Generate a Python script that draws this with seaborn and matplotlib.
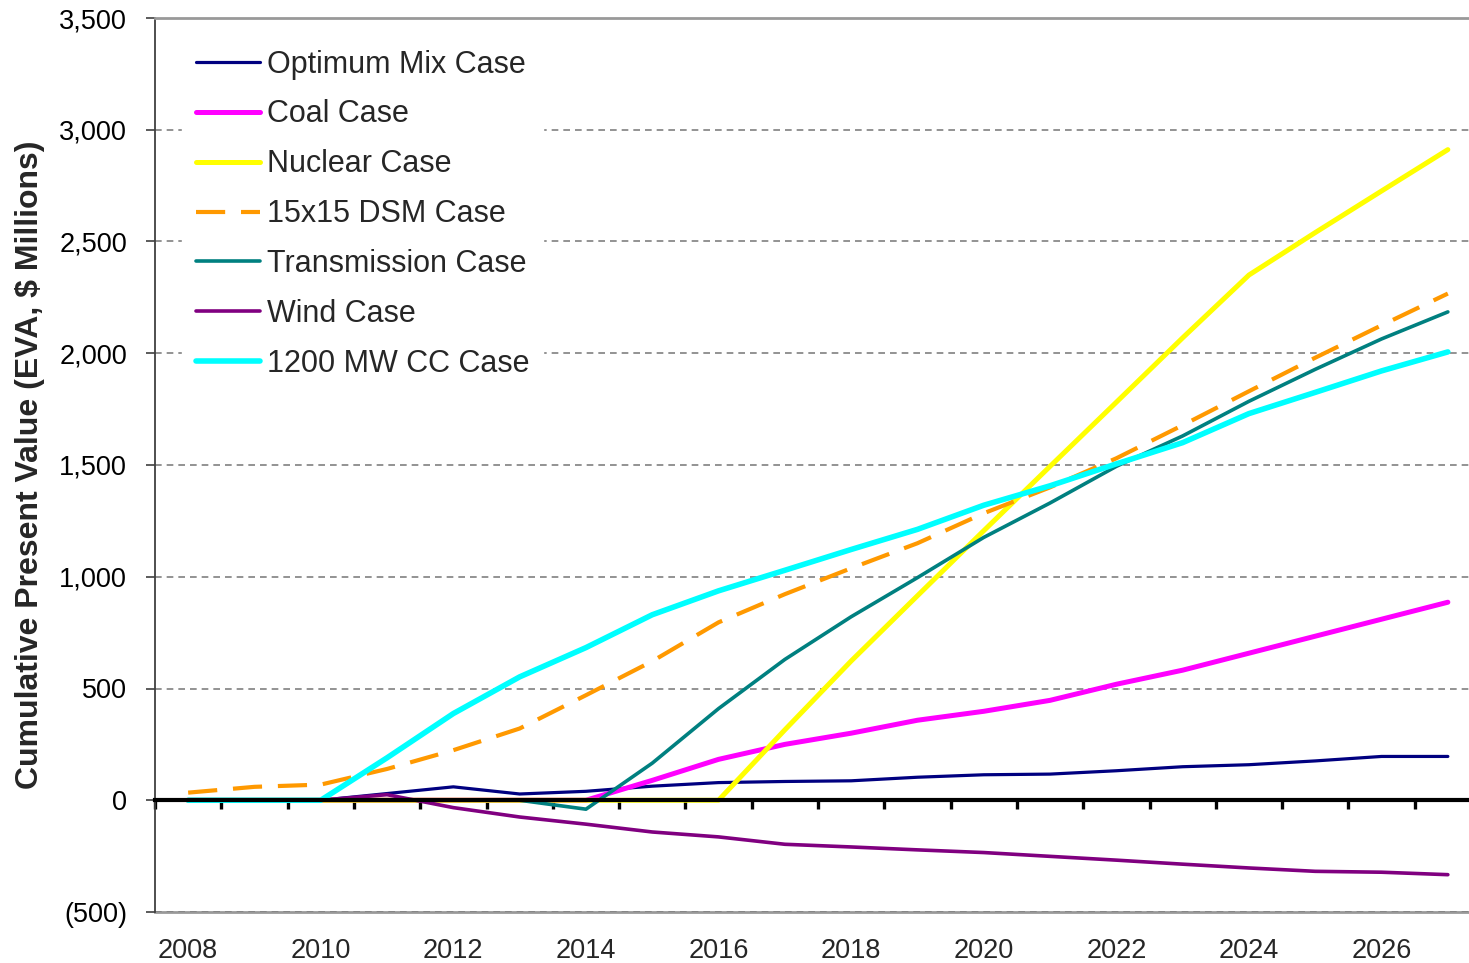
import numpy as np
import pandas as pd
import matplotlib
matplotlib.use("Agg")
import matplotlib.pyplot as plt
from matplotlib.ticker import FuncFormatter
import seaborn as sns

# --- dados ---
years = list(range(2008, 2028))

optimum = [0, 0, 0, 30, 60, 28, 40, 63, 79, 84, 87, 103, 114, 117, 132, 150, 159, 176, 196, 196]
coal = [0, 0, 0, 0, 0, 0, 0, 89, 183, 250, 300, 358, 398, 447, 519, 582, 658, 734, 810, 886]
nuclear = [0, 0, 0, 0, 0, 0, 0, 0, 0, 315, 623, 915, 1206, 1494, 1781, 2069, 2350, 2540, 2726, 2911]
dsm = [34, 60, 70, 140, 224, 321, 470, 622, 796, 922, 1038, 1150, 1284, 1400, 1530, 1678, 1830, 1980, 2125, 2267]
transmission = [0, 0, 0, 0, 0, 0, -40, 166, 410, 630, 821, 996, 1176, 1330, 1494, 1630, 1785, 1928, 2064, 2185]
wind = [0, 0, 0, 25, -33, -75, -107, -142, -164, -197, -209, -222, -234, -251, -268, -286, -303, -318, -322, -333]
cc1200 = [0, 0, 0, 190, 388, 552, 683, 830, 937, 1029, 1122, 1212, 1320, 1407, 1505, 1600, 1730, 1825, 1921, 2006]

case_names = ["Optimum Mix Case", "Coal Case", "Nuclear Case", "15x15 DSM Case",
              "Transmission Case", "Wind Case", "1200 MW CC Case"]
case_values = [optimum, coal, nuclear, dsm, transmission, wind, cc1200]

# estilo de cada série: cor, espessura, tracejado
styles = {
    "Optimum Mix Case": ("#000080", 2.3, "-"),
    "Coal Case": ("#FF00FF", 3.6, "-"),
    "Nuclear Case": ("#FFFF00", 3.6, "-"),
    "15x15 DSM Case": ("#FF9900", 3.0, (0, (7, 3.8))),
    "Transmission Case": ("#008080", 2.6, "-"),
    "Wind Case": ("#800080", 2.6, "-"),
    "1200 MW CC Case": ("#00FFFF", 4.0, "-"),
}

df = pd.DataFrame({name: vals for name, vals in zip(case_names, case_values)}, index=years)
df.index.name = "Year"
long_df = df.reset_index().melt(id_vars="Year", var_name="Case", value_name="Value")

sns.set_theme(style="white")
plt.rcParams["font.family"] = ["Liberation Sans", "DejaVu Sans"]

fig = plt.figure(figsize=(14.69, 9.63), dpi=100)
ax = fig.add_axes([155 / 1469, (963 - 912) / 963, 1314 / 1469, 894 / 963])

for name in case_names:
    color, lw, ls = styles[name]
    sub = long_df[long_df["Case"] == name]
    sns.lineplot(data=sub, x="Year", y="Value", ax=ax, color=color, lw=lw,
                 linestyle=ls, label=name, zorder=3)

ax.set_xlim(2007.5, 2007.5 + 1314 / 66.3)
ax.set_ylim(-500, 3500)

# eixo y
ax.set_yticks(np.arange(-500, 3501, 500))
ax.yaxis.set_major_formatter(FuncFormatter(lambda v, p: f"({abs(v):,.0f})" if v < 0 else f"{v:,.0f}"))
ax.tick_params(axis="y", left=True, direction="out", length=6.5, width=1.2,
               color="#404040", labelsize=19.5, pad=13.5, labelcolor="black")
ax.set_ylabel("Cumulative Present Value (EVA, $ Millions)", fontsize=23, fontweight="bold")
ax.yaxis.set_label_coords(-0.084, 0.5)

ax.yaxis.grid(True, linestyle=(0, (4, 3)), color="#808080", lw=1.2)
ax.xaxis.grid(False)
ax.set_axisbelow(True)

# eixo x primário na linha do zero (marcas entre categorias)
ax.spines["bottom"].set_position(("data", 0))
ax.spines["bottom"].set_color("black")
ax.spines["bottom"].set_linewidth(3)
ax.spines["bottom"].set_zorder(4)
ax.set_xticks(np.arange(2007.5, 2027, 1))
ax.tick_params(axis="x", bottom=True, direction="out", length=6.5, width=2.4,
               color="black", labelbottom=False)
ax.set_xlabel("")

ax.spines["left"].set_color("#404040")
ax.spines["left"].set_linewidth(1.3)
ax.spines["top"].set_color("#999999")
ax.spines["top"].set_linewidth(2)
ax.spines["right"].set_visible(False)

# rótulos dos anos na base do gráfico
sec = ax.secondary_xaxis("bottom")
sec.set_xticks(years[::2])
sec.set_xticklabels([str(y) for y in years[::2]])
sec.tick_params(length=0, labelsize=19.5, pad=19)
sec.spines["bottom"].set_color("#999999")
sec.spines["bottom"].set_linewidth(2)

leg = ax.legend(loc="upper left", bbox_to_anchor=(0.0205, 0.980), borderaxespad=0,
                fontsize=22, handlelength=2.1, handletextpad=0.23, labelspacing=0.65,
                borderpad=0.45, frameon=True, fancybox=False, framealpha=1,
                facecolor="white", edgecolor="white")
leg.set_zorder(5)

fig.savefig("out.png", dpi=100)
